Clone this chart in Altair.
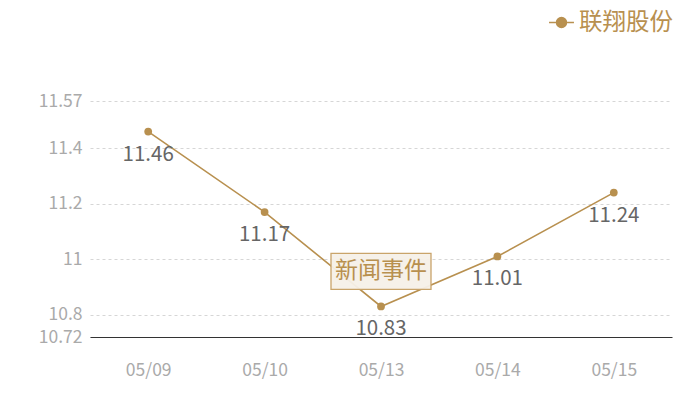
import altair as alt
import pandas as pd

dates = ["05/09", "05/10", "05/13", "05/14", "05/15"]
prices = [11.46, 11.17, 10.83, 11.01, 11.24]
series_name = "联翔股份"
y_ticks = [10.72, 10.8, 11, 11.2, 11.4, 11.57]
event_date = "05/13"
event_label = "新闻事件"

GOLD = "#b8904f"
FONT = "Noto Sans CJK SC"

df = pd.DataFrame({"date": dates, "price": prices, "series": series_name})
ev = pd.DataFrame({"date": [event_date],
                   "price": [prices[dates.index(event_date)]],
                   "label": [event_label]})

x = alt.X("date:N", sort=dates, title=None,
          scale=alt.Scale(paddingInner=0, paddingOuter=0),
          axis=alt.Axis(labelAngle=0, labelColor="#aaaaaa", labelFontSize=17.5,
                        labelFont=FONT, ticks=False, domain=True,
                        domainColor="#333333", domainWidth=1, labelPadding=24,
                        grid=False))
y = alt.Y("price:Q", title=None,
          scale=alt.Scale(domain=[y_ticks[0], y_ticks[-1]], zero=False, nice=False),
          axis=alt.Axis(values=y_ticks, labelExpr="datum.value", domain=False,
                        ticks=False, labelColor="#aaaaaa", labelFontSize=17.5,
                        labelFont=FONT, labelPadding=8, grid=True,
                        gridColor="#d6d6d6", gridDash=[3, 3], gridWidth=1))

legend_shape = "M-1,0 L-0.4,0 M0.4,0 L1,0 M0.4,0 A0.4,0.4 0 1,1 -0.4,0 A0.4,0.4 0 1,1 0.4,0 Z"

line = alt.Chart(df).mark_line(strokeWidth=1.6).encode(
    x=x, y=y,
    color=alt.Color("series:N", scale=alt.Scale(range=[GOLD]), title=None,
                    legend=alt.Legend(orient="none", legendX=458, legendY=-92,
                                      symbolType=legend_shape, symbolSize=620,
                                      symbolStrokeWidth=1.5, symbolFillColor=GOLD,
                                      symbolStrokeColor=GOLD,
                                      labelColor=GOLD, labelFontSize=23.5,
                                      labelFont=FONT, labelOffset=4, labelLimit=300)),
)
pts = alt.Chart(df).mark_circle(size=60, opacity=1, color=GOLD).encode(x=x, y=y)
labels = alt.Chart(df).mark_text(dy=23, fontSize=20.5, color="#666666", font=FONT).encode(
    x=x, y=y, text=alt.Text("price:Q", format=".2f"))

box_shape = "M-1,-0.36 L1,-0.36 L1,0.36 L-1,0.36 Z"
box = alt.Chart(ev).mark_point(shape=box_shape, size=10000, filled=True,
                               fill="#f6f0e8", fillOpacity=0.95, stroke="#c9a46a",
                               strokeWidth=1.3, opacity=1, yOffset=-35).encode(x=x, y=y)
box_text = alt.Chart(ev).mark_text(fontSize=23, color=GOLD, font=FONT, yOffset=-35,
                                   baseline="middle").encode(x=x, y=y, text="label:N")

chart = alt.layer(line, pts, labels, box, box_text).properties(
    width=582, height=236,
    padding={"left": 82, "top": 93, "right": 20, "bottom": 50},
    autosize=alt.AutoSizeParams(type="none"),
).configure(font=FONT).configure_view(stroke=None)

chart.save("out.html", embed_options={"renderer": "svg", "actions": False})
